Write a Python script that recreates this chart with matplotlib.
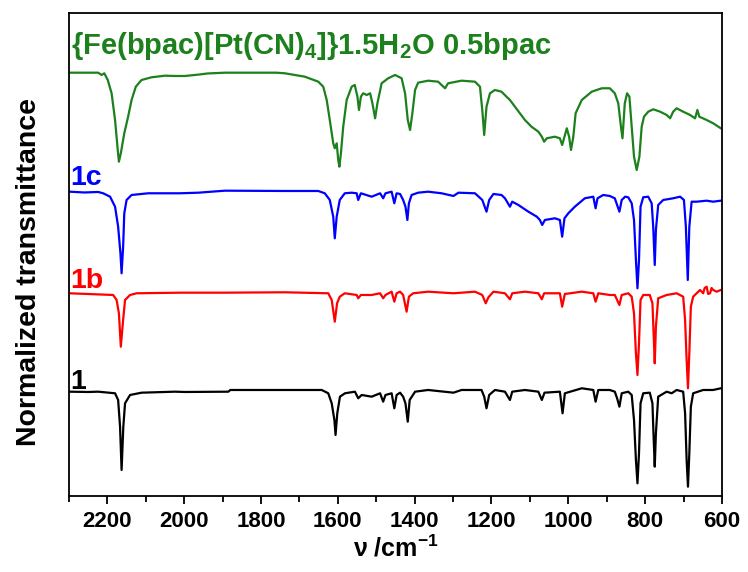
import matplotlib
matplotlib.use("Agg")
import matplotlib.pyplot as plt
from matplotlib.ticker import MultipleLocator

plt.rcParams['font.family'] = ['Liberation Sans', 'DejaVu Sans']
plt.rcParams['font.weight'] = 'bold'
plt.rcParams['mathtext.default'] = 'regular'

# IR spectra, stacked with offsets (wavenumber in cm-1, normalized transmittance in a.u.)
green_wn = [2298, 2224, 2215, 2208, 2199, 2189, 2180, 2173, 2170, 2165, 2156, 2146, 2137,
            2126, 2111, 2085, 2050, 2024, 1998, 1960, 1940, 1894, 1760, 1738, 1686, 1651, 1638,
            1629, 1621, 1612, 1608, 1603, 1599, 1596, 1592, 1586, 1577, 1564, 1556, 1549,
            1545, 1540, 1534, 1525, 1516, 1510, 1503, 1497, 1486, 1469, 1451, 1434, 1425,
            1418, 1412, 1406, 1399, 1391, 1365, 1339, 1321, 1313, 1278, 1243, 1230, 1224,
            1219, 1213, 1204, 1191, 1174, 1161, 1152, 1139, 1113, 1096, 1078, 1069, 1063,
            1056, 1035, 1022, 1016, 1010, 1004, 998, 993, 987, 981, 965, 939, 913, 892,
            879, 870, 863, 859, 853, 847, 841, 835, 829, 822, 815, 809, 803, 792, 779,
            761, 744, 735, 727, 718, 701, 683, 670, 664, 659, 640, 623, 603]
green_t = [4.233, 4.233, 4.21, 4.227, 4.16, 4.027, 3.76, 3.46, 3.343, 3.427, 3.627, 3.793, 3.96,
           4.093, 4.16, 4.187, 4.203, 4.2, 4.2, 4.215, 4.225, 4.233, 4.233, 4.227, 4.193, 4.143, 4.093,
           3.96, 3.76, 3.527, 3.477, 3.527, 3.36, 3.293, 3.427, 3.693, 3.96, 4.093, 4.11, 3.993,
           3.86, 3.993, 4.027, 4.01, 4.027, 3.927, 3.777, 3.927, 4.127, 4.177, 4.21, 4.177, 4.027,
           3.76, 3.66, 3.827, 4.06, 4.133, 4.153, 4.143, 4.077, 4.127, 4.153, 4.143, 4.093, 3.86,
           3.61, 3.893, 4.027, 4.06, 4.043, 3.993, 3.96, 3.893, 3.76, 3.693, 3.643, 3.593, 3.543,
           3.577, 3.593, 3.577, 3.51, 3.593, 3.677, 3.593, 3.46, 3.593, 3.827, 3.96, 4.043, 4.077, 4.077,
           4.027, 3.927, 3.693, 3.577, 3.927, 4.027, 3.993, 3.693, 3.393, 3.26, 3.393, 3.693, 3.793, 3.843, 3.867,
           3.843, 3.81, 3.777, 3.843, 3.877, 3.843, 3.81, 3.777, 3.86, 3.793, 3.76, 3.727, 3.677]

blue_wn = [2298, 2260, 2224, 2211, 2193, 2180, 2172, 2166, 2163, 2159, 2156, 2150, 2137, 2094,
           2011, 1963, 1894, 1738, 1651, 1634, 1621, 1612, 1608, 1603, 1595, 1582, 1564, 1551,
           1547, 1540, 1512, 1490, 1482, 1476, 1460, 1453, 1447, 1438, 1430, 1424, 1419, 1415,
           1408, 1391, 1365, 1330, 1299, 1286, 1243, 1224, 1213, 1206, 1195, 1174, 1165, 1152,
           1146, 1130, 1104, 1082, 1074, 1068, 1061, 1035, 1022, 1016, 1010, 1000, 983, 957, 935,
           929, 924, 909, 892, 879, 873, 867, 861, 852, 844, 835, 829, 824, 820, 816, 812, 805,
           792, 783, 779, 775, 772, 766, 753, 727, 709, 699, 694, 689, 685, 679, 666, 640, 623, 603]
blue_t = [3.043, 3.035, 3.04, 3.027, 2.993, 2.893, 2.693, 2.427, 2.227, 2.493, 2.827, 2.96, 3.01, 3.027,
          3.027, 3.033, 3.053, 3.05, 3.05, 3.027, 2.96, 2.793, 2.577, 2.793, 2.96, 3.027, 3.033, 3.027,
          2.96, 3.027, 2.993, 3.027, 2.977, 3.027, 3.043, 2.927, 3.027, 3.02, 2.96, 2.893, 2.76, 2.927,
          3.01, 3.033, 3.043, 3.027, 3.0, 3.033, 3.027, 2.96, 2.843, 2.96, 3.02, 3.01, 2.977, 2.893,
          2.943, 2.91, 2.843, 2.793, 2.76, 2.71, 2.76, 2.777, 2.76, 2.593, 2.777, 2.827, 2.893, 2.977, 2.993,
          2.877, 2.977, 3.01, 3.0, 2.977, 2.91, 2.843, 2.96, 2.993, 2.987, 2.927, 2.76, 2.36, 2.077, 2.36, 2.893, 2.987,
          2.993, 2.927, 2.693, 2.31, 2.66, 2.91, 2.96, 2.977, 2.993, 2.96, 2.693, 2.16, 2.693, 2.943, 2.943, 2.953, 2.943, 2.953]

red_wn = [2298, 2185, 2176, 2170, 2165, 2159, 2154, 2141, 2124, 2011, 1900, 1738, 1625, 1616,
          1608, 1602, 1595, 1582, 1551, 1547, 1540, 1512, 1490, 1482, 1476, 1460, 1453, 1447,
          1438, 1430, 1421, 1415, 1404, 1365, 1299, 1243, 1224, 1215, 1208, 1195, 1165, 1152,
          1146, 1113, 1078, 1069, 1063, 1022, 1016, 1009, 965, 935, 929, 922, 892, 879, 873, 867,
          861, 844, 835, 829, 824, 820, 816, 812, 805, 788, 781, 778, 775, 772, 766, 744, 718,
          701, 696, 692, 688.5, 685, 681, 675, 666, 657, 649, 645, 640, 636, 631, 627, 623, 614, 603]
red_t = [2.027, 2.01, 1.96, 1.827, 1.493, 1.76, 1.96, 2.01, 2.027, 2.033, 2.033, 2.037, 2.027, 1.96,
         1.743, 1.927, 1.993, 2.027, 2.01, 1.977, 2.01, 2.01, 2.027, 1.977, 2.01, 2.043, 1.943, 2.027,
         2.043, 2.01, 1.843, 1.993, 2.027, 2.043, 2.027, 2.043, 2.01, 1.927, 1.987, 2.043, 2.027, 1.967,
         2.027, 2.043, 2.027, 1.967, 2.027, 2.027, 1.893, 2.02, 2.043, 2.027, 1.943, 2.027, 2.01, 2.01, 1.96, 1.91,
         2.01, 2.027, 1.993, 1.827, 1.427, 1.21, 1.527, 1.96, 2.01, 2.01, 1.927, 1.627, 1.327, 1.693, 1.977, 2.01, 2.027,
         1.993, 1.76, 1.36, 1.077, 1.427, 1.893, 1.993, 2.027, 2.06, 2.027, 2.08, 2.093, 2.02, 2.027, 2.08, 2.06, 2.043, 2.06]

black_wn = [2298, 2250, 2224, 2180, 2172, 2167, 2163, 2158.5, 2154, 2141, 2111, 2024, 1998,
            1885, 1880, 1738, 1642, 1625, 1616, 1609, 1606, 1601.5, 1594.5, 1581.5, 1555.5, 1547,
            1538, 1512, 1490, 1482, 1476, 1460, 1453, 1447, 1438, 1430, 1424, 1418, 1413, 1399,
            1365, 1299, 1278, 1226, 1219, 1213, 1206, 1191, 1165, 1152, 1146, 1113, 1078, 1069,
            1062, 1022, 1015, 1009, 965, 935, 929, 922, 892, 879, 873, 867, 861, 844, 835, 829,
            824, 820, 816, 812, 805, 788, 781, 778, 775, 772, 766, 744, 731, 718, 701, 696, 692,
            688.5, 685, 681, 675, 649, 623, 603]
black_t = [1.043, 1.04, 1.043, 1.027, 0.96, 0.693, 0.26, 0.693, 0.927, 1.01, 1.033, 1.043, 1.04,
           1.043, 1.06, 1.06, 1.06, 1.027, 0.927, 0.76, 0.61, 0.827, 0.993, 1.027, 1.043, 0.977,
           1.01, 0.993, 1.027, 0.943, 1.01, 1.027, 0.877, 1.01, 1.033, 0.993, 0.927, 0.743, 0.96, 1.043,
           1.06, 1.033, 1.06, 1.06, 0.993, 0.877, 1.01, 1.06, 1.043, 0.96, 1.043, 1.06, 1.043, 0.96,
           1.033, 1.043, 0.827, 1.027, 1.077, 1.06, 0.943, 1.06, 1.06, 1.043, 0.977, 0.893, 1.027, 1.043, 1.01, 0.76,
           0.36, 0.127, 0.427, 0.927, 1.027, 1.033, 0.927, 0.593, 0.293, 0.627, 0.993, 1.043, 1.027, 1.06, 1.043, 0.827, 0.36,
           0.093, 0.427, 0.893, 1.027, 1.06, 1.06, 1.077]

labels = [r'{Fe(bpac)[Pt(CN)$_4$]}1.5H$_2$O 0.5bpac', '1c', '1b', '1']
colors = ['#1c801c', '#0000ff', '#ff0000', '#000000']
label_y = [4.42, 3.11, 2.08, 1.07]
label_size = [21, 20.5, 20.5, 20.5]

fig = plt.figure(figsize=(7.48, 5.72), dpi=100)
ax = fig.add_axes([0.0922, 0.1329, 0.8730, 0.8444])

traces = [(green_wn, green_t), (blue_wn, blue_t), (red_wn, red_t), (black_wn, black_t)]
for (wn, t), c in zip(traces, colors):
    ax.plot(wn, t, color=c, lw=1.6)

for lab, c, y, fs in zip(labels, colors, label_y, label_size):
    ax.text(2296, y, lab, color=c, fontsize=fs, fontweight='bold', va='baseline', ha='left')

ax.set_xlim(2300, 600)
ax.set_ylim(0, 4.83)
ax.xaxis.set_major_locator(MultipleLocator(200))
ax.xaxis.set_minor_locator(MultipleLocator(100))
ax.set_yticks([])
ax.tick_params(axis='x', which='major', direction='out', length=6, width=1.3,
               labelsize=16, pad=5)
ax.tick_params(axis='x', which='minor', direction='out', length=4, width=1.3)
for s in ax.spines.values():
    s.set_linewidth(1.3)

ax.set_xlabel(r'ν /cm$^{-1}$', fontsize=18, fontweight='bold', labelpad=2)
ax.set_ylabel('Normalized transmittance', fontsize=20.5, fontweight='bold')
ax.yaxis.set_label_coords(-0.041, 0.463)

fig.savefig('out.png', dpi=100)
